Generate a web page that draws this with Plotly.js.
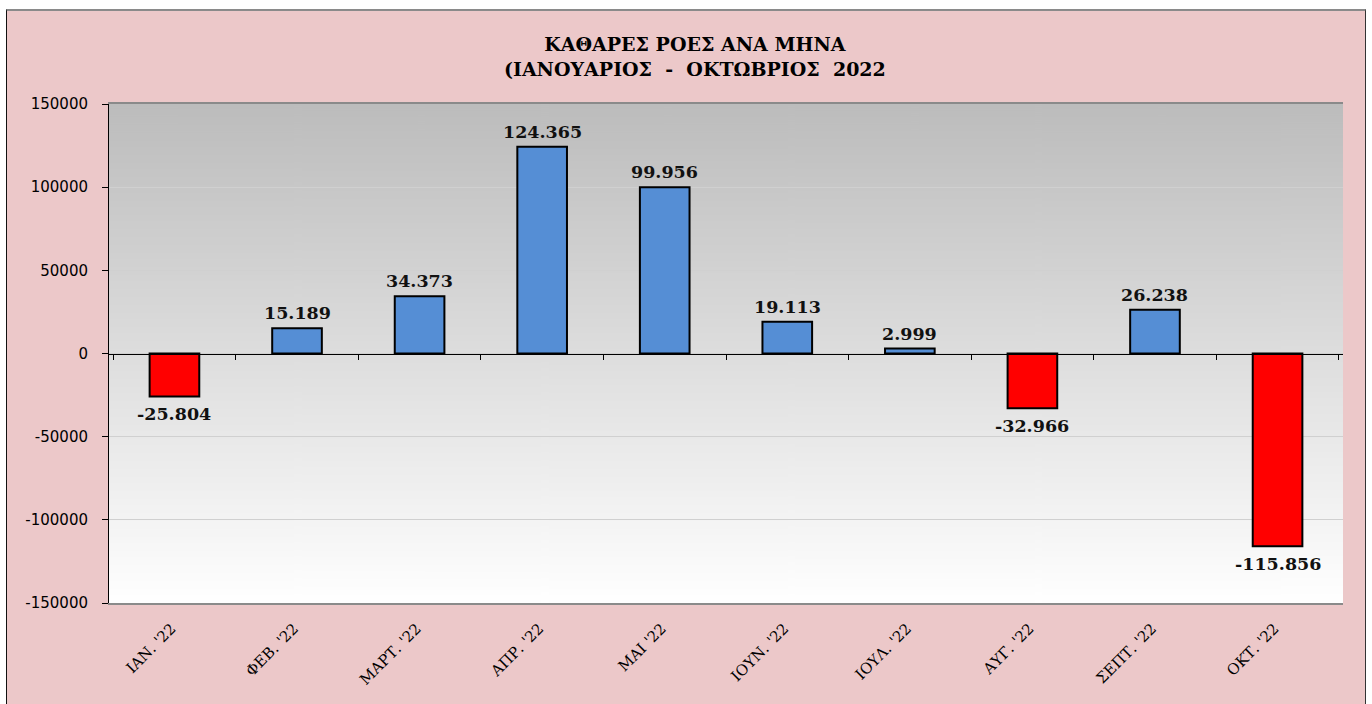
<!DOCTYPE html>
<html>
<head>
<meta charset="utf-8">
<script src="https://cdn.plot.ly/plotly-3.0.1.min.js"></script>
<style>
  html, body { margin:0; padding:0; background:#ffffff; width:1372px; height:704px; overflow:hidden; }
  #frame { position:absolute; left:6px; top:9px; width:1358px; height:720px;
           background:#ecc8c9; border-left:1.5px solid #111; border-top:2px solid #8a8a8a; border-right:1.5px solid #333; }
  #chart { position:absolute; left:0; top:0; width:1372px; height:704px; }
</style>
</head>
<body>
<div id="frame"></div>
<div id="chart"></div>
<script>
const categories = ["ΙΑΝ. '22", "ΦΕΒ. '22", "ΜΑΡΤ. '22", "ΑΠΡ. '22", "ΜΑΙ '22", "ΙΟΥΝ. '22", "ΙΟΥΛ. '22", "ΑΥΓ. '22", "ΣΕΠΤ. '22", "ΟΚΤ. '22"];
const netFlows = [-25804, 15189, 34373, 124365, 99956, 19113, 2999, -32966, 26238, -115856];
const yTickVals = [150000, 100000, 50000, 0, -50000, -100000, -150000];
const yTickText = ["150000", "100000", "50000", "0", "-50000", "-100000", "-150000"];
const titleLines = ["ΚΑΘΑΡΕΣ ΡΟΕΣ ΑΝΑ ΜΗΝΑ", "(ΙΑΝΟΥΑΡΙΟΣ  -  ΟΚΤΩΒΡΙΟΣ  2022"];

function fmt(v) {
  const s = Math.abs(v).toString().replace(/\B(?=(\d{3})+(?!\d))/g, ".");
  return (v < 0 ? "-" : "") + s;
}

// gradient background image for the plot area
const cv = document.createElement("canvas");
cv.width = 10; cv.height = 500;
const ctx = cv.getContext("2d");
const g = ctx.createLinearGradient(0, 0, 0, 500);
g.addColorStop(0, "#bcbcbc");
g.addColorStop(1, "#ffffff");
ctx.fillStyle = g;
ctx.fillRect(0, 0, 10, 500);
const gradURL = cv.toDataURL("image/png");

const barTrace = {
  type: "bar",
  x: categories,
  y: netFlows,
  marker: {
    color: netFlows.map(v => v < 0 ? "#ff0000" : "#558ed5"),
    line: { color: "#000000", width: 2 }
  },
  hoverinfo: "x+y",
  showlegend: false
};

const axisTrace = {
  type: "scatter",
  mode: "markers",
  x: categories,
  y: categories.map(() => null),
  xaxis: "x2",
  yaxis: "y",
  hoverinfo: "skip",
  showlegend: false
};

const annotations = netFlows.map((v, i) => ({
  x: categories[i],
  y: v,
  xref: "x",
  yref: "y",
  text: "<b>" + fmt(v) + "</b>",
  showarrow: false,
  yanchor: v < 0 ? "top" : "bottom",
  yshift: v < 0 ? -6 : 3,
  font: { family: "DejaVu Serif, serif", size: 17.5, color: "#111111" }
}));

annotations.push({
  xref: "paper", yref: "paper",
  x: 0.475, y: 1, yshift: 73,
  xanchor: "center", yanchor: "top",
  align: "center",
  showarrow: false,
  text: "<b>" + titleLines.join("<br>") + "</b>",
  font: { family: "DejaVu Serif, serif", size: 19, color: "#000000" }
});

const layout = {
  width: 1372,
  height: 704,
  margin: { l: 109, r: 29, t: 104, b: 101 },
  paper_bgcolor: "rgba(0,0,0,0)",
  plot_bgcolor: "rgba(0,0,0,0)",
  bargap: 0.595,
  showlegend: false,
  xaxis: {
    type: "category",
    tickangle: -45,
    ticks: "",
    ticklabelstandoff: 9,
    ticklabelshift: -3,
    showline: true,
    linecolor: "#8a8a8a",
    linewidth: 2,
    mirror: true,
    showgrid: false,
    zeroline: false,
    tickfont: { family: "DejaVu Serif, serif", size: 15, color: "#000000" },
    fixedrange: true
  },
  xaxis2: {
    type: "category",
    matches: "x",
    overlaying: "x",
    anchor: "free",
    position: 0.5,
    side: "bottom",
    showticklabels: false,
    ticks: "outside",
    tickson: "boundaries",
    ticklen: 5,
    tickcolor: "#000000",
    tickwidth: 1,
    showline: true,
    linecolor: "#000000",
    linewidth: 1,
    showgrid: false,
    zeroline: false
  },
  yaxis: {
    range: [-150000, 150000],
    tickvals: yTickVals,
    ticktext: yTickText,
    ticks: "outside",
    ticklen: 6,
    tickcolor: "#000000",
    ticklabelstandoff: 11,
    showline: true,
    linecolor: "#000000",
    linewidth: 1,
    showgrid: true,
    gridcolor: "#d0d0d0",
    gridwidth: 1,
    zeroline: false,
    tickfont: { family: "DejaVu Sans, sans-serif", size: 15, color: "#000000" },
    fixedrange: true
  },
  images: [{
    source: gradURL,
    xref: "paper", yref: "paper",
    x: 0, y: 1, sizex: 1, sizey: 1,
    sizing: "stretch",
    xanchor: "left", yanchor: "top",
    layer: "below"
  }],
  annotations: annotations
};

Plotly.newPlot("chart", [barTrace, axisTrace], layout, { displayModeBar: false, staticPlot: true });
</script>
</body>
</html>
